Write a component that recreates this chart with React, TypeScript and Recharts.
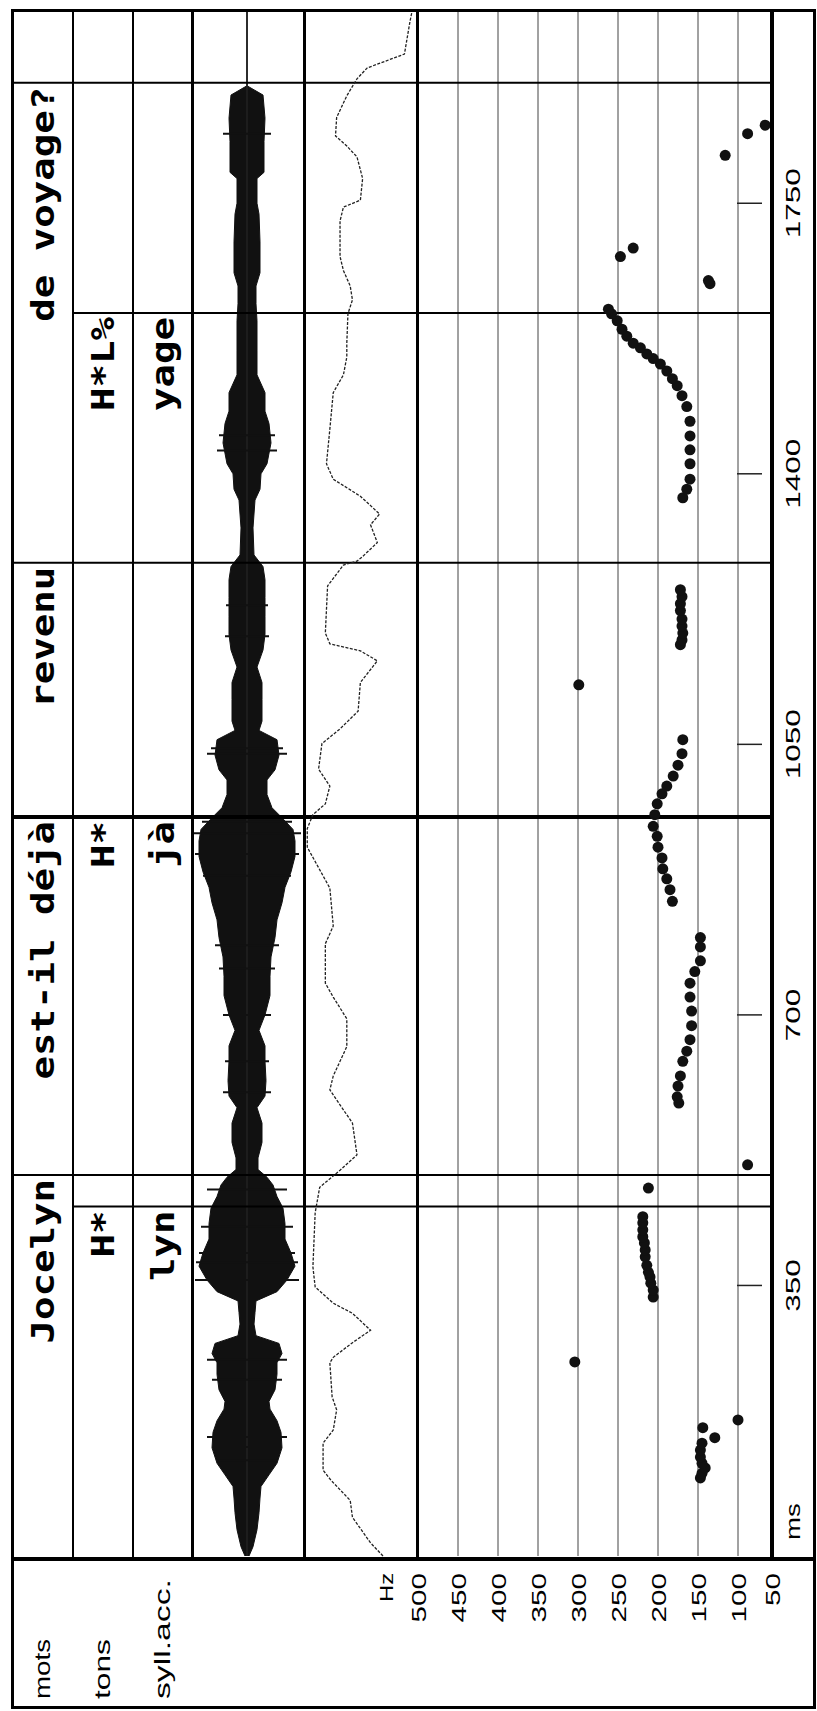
import React from 'react'
import {
  ComposedChart,
  Area,
  Line,
  Scatter,
  XAxis,
  YAxis,
  CartesianGrid,
  ReferenceLine,
} from 'recharts'

// ---- tiers (segment labels, right-aligned at segment end, ms) ----
const TIER_ROWS = [2.5, 1.5, 0.5]
const TIER_NAMES = ['mots', 'tons', 'syll.acc.']

const WORDS = ['Jocelyn', 'est-il déjà', 'revenu', 'de voyage?']
const WORD_ENDS = [493, 956, 1285, 1906]
const TONES = ['H*', 'H*', 'H*L%']
const TONE_ENDS = [452, 956, 1608]
const SYLLS = ['lyn', 'jà', 'yage']
const SYLL_ENDS = [452, 956, 1608]

// ---- axes ----
const TIME_TICKS = [0, 350, 700, 1050, 1400, 1750]
const TIME_LABELS = ['ms', '350', '700', '1050', '1400', '1750']
const HZ_TICKS = [57.5, 100, 150, 200, 250, 300, 350, 400, 450, 500]
const HZ_LABELS = ['50', '100', '150', '200', '250', '300', '350', '400', '450', '500']
const HZ_UNIT = 'Hz'

// ---- waveform envelope (half amplitude) and the longer spikes ----
const WAVE_T = [0, 12, 34, 56, 75, 90, 105, 120, 140, 160, 175, 190, 200, 215, 235, 250, 262, 275, 285, 300, 315, 330, 342, 357, 375, 392, 410, 430, 450, 465, 480, 490, 500, 515, 535, 560, 580, 595, 615, 640, 660, 680, 700, 725, 750, 775, 800, 823, 845, 865, 885, 905, 925, 940, 955, 968, 985, 1004, 1017, 1036, 1056, 1068, 1080, 1108, 1130, 1150, 1172, 1192, 1215, 1240, 1263, 1280, 1295, 1330, 1366, 1380, 1400, 1413, 1440, 1465, 1481, 1505, 1528, 1560, 1598, 1620, 1643, 1660, 1700, 1736, 1750, 1782, 1790, 1830, 1860, 1890, 1902, 2000]
const WAVE_AMP = [2, 6, 10, 12, 13, 14, 22, 30, 35, 34, 30, 23, 22, 28, 30, 30, 35, 32, 9, 7, 8, 9, 30, 40, 48, 44, 38, 38, 36, 30, 26, 20, 11, 11, 15, 15, 10, 18, 19, 18, 18, 12, 18, 23, 23, 24, 28, 30, 35, 38, 44, 48, 48, 46, 35, 25, 20, 20, 28, 32, 30, 12, 15, 15, 15, 10, 16, 18, 18, 18, 18, 16, 7, 6, 8, 13, 14, 20, 24, 22, 18, 18, 10, 10, 10, 9, 9, 13, 13, 12, 10, 10, 17, 17, 18, 16, 0, 0]
const SPIKE_T = [124, 141, 154, 228, 254, 357, 367, 380, 392, 426, 474, 600, 640, 700, 760, 790, 880, 908, 935, 950, 1038, 1045, 1190, 1230, 1430, 1450, 1840]
const SPIKE_AMP = [30, 33, 40, 35, 40, 52, 55, 51, 48, 46, 40, 24, 22, 24, 28, 32, 44, 52, 54, 45, 40, 36, 22, 21, 30, 28, 24]

// ---- intensity curve ----
const INT_T = [0, 17, 50, 72, 98, 111, 146, 163, 189, 206, 250, 257, 276, 292, 314, 327, 348, 374, 444, 477, 499, 519, 560, 603, 621, 659, 695, 723, 741, 792, 815, 864, 917, 941, 959, 973, 996, 1018, 1051, 1070, 1093, 1130, 1158, 1171, 1180, 1194, 1255, 1282, 1287, 1293, 1311, 1334, 1348, 1371, 1393, 1413, 1458, 1505, 1528, 1551, 1569, 1607, 1625, 1643, 1663, 1681, 1727, 1745, 1754, 1782, 1810, 1824, 1837, 1861, 1889, 1911, 1925, 1943, 1986, 2000]
const INT_V = [31, 42, 58, 60, 77, 84, 84, 75, 72, 76, 78, 75, 58, 42, 58, 75, 91, 93, 91, 87, 69, 54, 58, 78, 75, 63, 63, 75, 82, 82, 75, 78, 98, 98, 93, 82, 78, 88, 85, 69, 53, 51, 36, 51, 78, 82, 80, 66, 54, 49, 36, 42, 34, 51, 75, 81, 78, 75, 66, 63, 63, 62, 58, 60, 66, 69, 69, 66, 51, 49, 54, 63, 73, 72, 63, 54, 45, 12, 7, 5]

// ---- F0 points ----
const F0_T = [101, 107, 114, 120, 128, 137, 146, 153, 166, 176, 251, 335, 344, 353, 361, 367, 376, 387, 396, 405, 413, 422, 431, 439, 476, 506, 586, 594, 608, 621, 640, 653, 668, 686, 705, 723, 741, 756, 770, 788, 800, 847, 862, 876, 889, 903, 917, 931, 944, 959, 973, 986, 996, 1009, 1023, 1038, 1056, 1127, 1179, 1185, 1194, 1203, 1212, 1223, 1232, 1241, 1250, 1369, 1380, 1393, 1413, 1431, 1449, 1468, 1487, 1501, 1514, 1523, 1533, 1542, 1549, 1555, 1563, 1569, 1578, 1587, 1598, 1607, 1613, 1646, 1650, 1681, 1692, 1812, 1840, 1851]
const F0_HZ = [147, 145, 141, 145, 147, 147, 145, 129, 144, 100, 304, 206, 206, 209, 210, 212, 214, 216, 216, 217, 219, 219, 219, 219, 212, 88, 174, 176, 175, 172, 169, 164, 160, 158, 158, 160, 160, 154, 147, 147, 147, 182, 185, 189, 194, 195, 200, 201, 206, 204, 201, 195, 189, 181, 175, 170, 169, 299, 172, 170, 169, 170, 170, 172, 172, 170, 172, 169, 164, 160, 160, 160, 160, 160, 164, 170, 176, 182, 189, 197, 206, 214, 222, 231, 239, 245, 251, 258, 262, 135, 137, 247, 231, 116, 88, 66]

// layout is drawn unrotated (time left->right), then turned a quarter left
const W = 1711
const H = 817
const PLOT_L = 155
const PLOT_R = 10
const T_DOMAIN: [number, number] = [0, 2000]
const SANS = "'Liberation Sans', Arial, sans-serif"
const MONO = "'DejaVu Sans Mono', monospace"
const CHAR_W = 23.5

const BOUNDS = Array.from(new Set([...WORD_ENDS, ...TONE_ENDS])).sort((a, b) => a - b)
const boundWidth = (t: number) => (WORD_ENDS.includes(t) && TONE_ENDS.includes(t) ? 4 : 2)

const wordPts = WORDS.map((label, i) => ({ t: WORD_ENDS[i], row: 2.5, label }))
const tonePts = TONES.map((label, i) => ({ t: TONE_ENDS[i], row: 1.5, label }))
const syllPts = SYLLS.map((label, i) => ({ t: SYLL_ENDS[i], row: 0.5, label }))
const waveData = WAVE_T.map((t, i) => ({ t, env: [-WAVE_AMP[i], WAVE_AMP[i]] }))
const intData = INT_T.map((t, i) => ({ t, v: INT_V[i] }))
const f0Data = F0_T.map((t, i) => ({ t, hz: F0_HZ[i] }))

const TIER_LEN: Record<string, number> = { mots: 60, tons: 60, 'syll.acc.': 120 }

// eslint-disable-next-line @typescript-eslint/no-explicit-any
function TierTick({ y, payload }: any) {
  const s = TIER_NAMES[TIER_ROWS.indexOf(payload.value)]
  return (
    <text x={12} y={y + 7} fontFamily={SANS} fontSize={22} fill="#000"
      textLength={TIER_LEN[s]} lengthAdjust="spacingAndGlyphs">
      {s}
    </text>
  )
}

// eslint-disable-next-line @typescript-eslint/no-explicit-any
function TierText({ cx, cy, payload }: any) {
  const s: string = payload.label
  return (
    <text x={cx - 4} y={cy + 11} textAnchor="end" fontFamily={MONO} fontWeight={700}
      fontSize={32} fill="#000" textLength={s.length * CHAR_W} lengthAdjust="spacingAndGlyphs">
      {s}
    </text>
  )
}

// eslint-disable-next-line @typescript-eslint/no-explicit-any
function HzTick({ y, payload }: any) {
  const s = HZ_LABELS[HZ_TICKS.indexOf(payload.value)]
  return (
    <g>
      {payload.value === 500 && (
        <text x={PLOT_L - 17} y={y - 25} textAnchor="end" fontFamily={SANS} fontSize={18}
          fill="#000" textLength={29} lengthAdjust="spacingAndGlyphs">
          {HZ_UNIT}
        </text>
      )}
      <text x={PLOT_L - 17} y={y + 7.5} textAnchor="end" fontFamily={SANS} fontSize={21}
        fill="#000" textLength={s.length * 16.5} lengthAdjust="spacingAndGlyphs">
        {s}
      </text>
    </g>
  )
}

// eslint-disable-next-line @typescript-eslint/no-explicit-any
function TimeTick({ x, y, payload }: any) {
  const s = TIME_LABELS[TIME_TICKS.indexOf(payload.value)]
  if (payload.value === 0) {
    return (
      <text x={x + 16} y={y + 20} fontFamily={SANS} fontSize={21} fill="#000"
        textLength={37} lengthAdjust="spacingAndGlyphs">
        {s}
      </text>
    )
  }
  return (
    <g>
      <line x1={x} x2={x} y1={y - 43} y2={y - 18} stroke="#222" strokeWidth={1.5} />
      <text x={x} y={y + 20} textAnchor="middle" fontFamily={SANS} fontSize={21} fill="#000"
        textLength={s.length * 17.5} lengthAdjust="spacingAndGlyphs">
        {s}
      </text>
    </g>
  )
}

const boundaryLines = BOUNDS.map(t => (
  <ReferenceLine key={t} x={t} stroke="#000" strokeWidth={boundWidth(t)} />
))

function TierChart() {
  return (
    <ComposedChart width={W} height={180} margin={{ top: 0, right: PLOT_R, bottom: 0, left: 0 }}>
      <XAxis type="number" dataKey="t" domain={T_DOMAIN} hide />
      <YAxis type="number" dataKey="row" domain={[0, 3]} ticks={TIER_ROWS} width={PLOT_L}
        axisLine={false} tickLine={false} tick={<TierTick />} interval={0} />
      {WORD_ENDS.map(t => (
        <ReferenceLine key={`w${t}`} segment={[{ x: t, y: 0 }, { x: t, y: 3 }]}
          stroke="#000" strokeWidth={boundWidth(t)} />
      ))}
      {TONE_ENDS.filter(t => !WORD_ENDS.includes(t)).map(t => (
        <ReferenceLine key={`s${t}`} segment={[{ x: t, y: 0 }, { x: t, y: 2 }]}
          stroke="#000" strokeWidth={2} />
      ))}
      <Scatter data={wordPts} shape={(p: any) => <TierText {...p} />} isAnimationActive={false} />
      <Scatter data={tonePts} shape={(p: any) => <TierText {...p} />} isAnimationActive={false} />
      <Scatter data={syllPts} shape={(p: any) => <TierText {...p} />} isAnimationActive={false} />
    </ComposedChart>
  )
}

function WaveChart() {
  return (
    <ComposedChart width={W} height={112} data={waveData}
      margin={{ top: 0, right: PLOT_R, bottom: 0, left: 0 }}>
      <XAxis type="number" dataKey="t" domain={T_DOMAIN} hide />
      <YAxis type="number" domain={[-58, 54]} width={PLOT_L} tick={false} axisLine={false} tickLine={false} />
      <ReferenceLine y={0} stroke="#222" strokeWidth={1.5} />
      <Area type="linear" dataKey="env" stroke="#111" strokeWidth={1} fill="#111" fillOpacity={1}
        dot={false} activeDot={false} isAnimationActive={false} />
      {SPIKE_T.map((t, i) => (
        <ReferenceLine key={`k${t}`} segment={[{ x: t, y: -SPIKE_AMP[i] }, { x: t, y: SPIKE_AMP[i] }]}
          stroke="#111" strokeWidth={2} />
      ))}
      {boundaryLines}
    </ComposedChart>
  )
}

function IntensityChart() {
  return (
    <ComposedChart width={W} height={113} data={intData}
      margin={{ top: 0, right: PLOT_R, bottom: 0, left: 0 }}>
      <XAxis type="number" dataKey="t" domain={T_DOMAIN} hide />
      <YAxis type="number" domain={[0, 100]} width={PLOT_L} tick={false} axisLine={false} tickLine={false} />
      {boundaryLines}
      <Line type="linear" dataKey="v" stroke="#222" strokeWidth={1.3} strokeDasharray="3 1.5"
        dot={false} activeDot={false} isAnimationActive={false} />
    </ComposedChart>
  )
}

function F0Chart() {
  return (
    <ComposedChart width={W} height={457} margin={{ top: 58, right: PLOT_R, bottom: 0, left: 0 }}>
      <CartesianGrid vertical={false} stroke="#444" strokeWidth={1} />
      <XAxis type="number" dataKey="t" domain={T_DOMAIN} ticks={TIME_TICKS} interval={0}
        height={45} axisLine={false} tickLine={false} tickSize={6} tickMargin={2} tick={<TimeTick />} />
      <YAxis type="number" dataKey="hz" domain={[57.5, 500]} ticks={HZ_TICKS} interval={0}
        width={PLOT_L} axisLine={false} tickLine={false} tick={<HzTick />} />
      {boundaryLines}
      <Scatter data={f0Data} isAnimationActive={false}
        shape={(p: any) => <circle cx={p.cx} cy={p.cy} r={5.5} fill="#111" />} />
    </ComposedChart>
  )
}

function Rule({ l, t, w, h }: { l: number; t: number; w: number; h: number }) {
  return <div style={{ position: 'absolute', left: l, top: t, width: w, height: h, background: '#000' }} />
}

export default function App() {
  return (
    <div style={{ position: 'absolute', left: 0, top: 0, width: H, height: W, overflow: 'hidden', background: '#fff' }}>
      <div style={{
        position: 'absolute', left: 0, top: 0, width: W, height: H,
        transformOrigin: '0 0', transform: `translateY(${W}px) rotate(-90deg)`,
      }}>
        <div style={{ position: 'absolute', left: 0, top: 13 }}><TierChart /></div>
        <div style={{ position: 'absolute', left: 0, top: 193 }}><WaveChart /></div>
        <div style={{ position: 'absolute', left: 0, top: 305 }}><IntensityChart /></div>
        <div style={{ position: 'absolute', left: 0, top: 360 }}><F0Chart /></div>

        <div style={{
          position: 'absolute', left: 2, top: 11, width: 1700, height: 805,
          border: '3px solid #000', boxSizing: 'border-box',
        }} />
        <Rule l={150} t={11} w={4} h={805} />
        <Rule l={150} t={72} w={1552} h={2} />
        <Rule l={150} t={132} w={1552} h={2} />
        <Rule l={150} t={191} w={1552} h={3} />
        <Rule l={150} t={303} w={1552} h={3} />
        <Rule l={150} t={416} w={1552} h={3} />
        <Rule l={150} t={770} w={1552} h={4} />
      </div>
    </div>
  )
}
